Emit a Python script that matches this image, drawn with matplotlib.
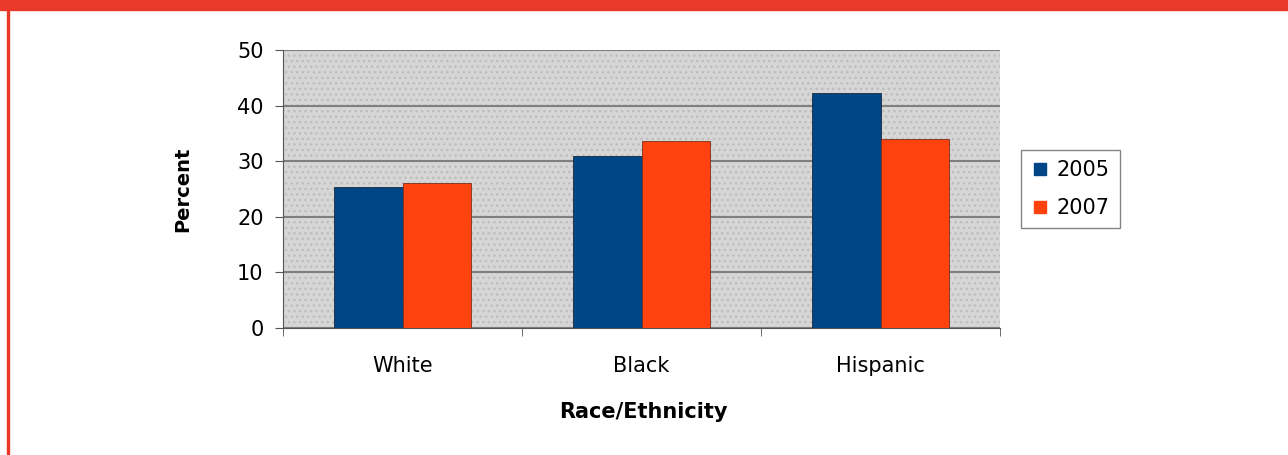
import numpy as np
import matplotlib.pyplot as plt
from matplotlib.patches import Rectangle
from matplotlib.lines import Line2D

categories = ["White", "Black", "Hispanic"]
years = ["2005", "2007"]
pct_2005 = [25.3, 31.0, 42.2]
pct_2007 = [26.0, 33.6, 34.0]
colors = ["#004586", "#ff420e"]

plt.rcParams['font.family'] = ['DejaVu Sans']

fig = plt.figure(figsize=(12.88, 4.55), dpi=100)

# red frame of the page (top bar + left line)
fig.patches.append(Rectangle((0, 455 - 10), 1288, 10, transform=None,
                             color="#e8392a", zorder=0))
fig.patches.append(Rectangle((7, 0), 2, 445, transform=None,
                             color="#e8392a", zorder=0))

ax = fig.add_axes([283 / 1288, 127 / 455, 717 / 1288, 278 / 455])
ax.set_facecolor("#d6d6d6")
ax.add_patch(Rectangle((0, 0), 1, 1, transform=ax.transAxes, facecolor="none",
                       hatch="...", edgecolor="#bdbdbd", linewidth=0, zorder=0))

x = np.arange(len(categories))
w = 0.285
ax.bar(x - w / 2, pct_2005, w, color=colors[0], edgecolor="#1a2a3a",
       linewidth=0.6, zorder=3, label=years[0])
ax.bar(x + w / 2, pct_2007, w, color=colors[1], edgecolor="#7a3020",
       linewidth=0.6, zorder=3, label=years[1])

ax.set_xlim(-0.5, len(categories) - 0.5)
ax.set_ylim(0, 50)
ax.set_yticks(range(0, 51, 10))
ax.yaxis.grid(True, color="#7f7f7f", linewidth=1.5, zorder=1)
ax.set_axisbelow(True)

ax.set_xticks(x)
ax.set_xticklabels(categories, fontsize=15)
ax.tick_params(axis="x", which="major", length=0, pad=20)
ax.set_xticks(np.arange(-0.5, len(categories)), minor=True)
ax.tick_params(axis="x", which="minor", length=6, color="#555555", direction="out")
ax.tick_params(axis="y", length=6, color="#555555", labelsize=15, pad=8)

for s in ["top", "right"]:
    ax.spines[s].set_visible(False)
ax.spines["left"].set_color("#555555")
ax.spines["bottom"].set_color("#555555")
ax.spines["left"].set_linewidth(0.8)
ax.spines["bottom"].set_linewidth(0.8)

ax.set_xlabel("Race/Ethnicity", fontsize=15, fontweight="bold")
ax.xaxis.set_label_coords(0.503, -0.266)
ax.set_ylabel("Percent", fontsize=14, fontweight="bold")
ax.yaxis.set_label_coords(-0.127, 0.5)

handles = [Line2D([], [], marker="s", linestyle="none", markersize=8.6,
                  markerfacecolor=c, markeredgecolor=c) for c in colors]
leg = fig.legend(handles, years, loc="center left", bbox_to_anchor=(1021 / 1288, 1 - 189 / 455),
                 fontsize=15, frameon=True, handlelength=0.8, handletextpad=0.4,
                 labelspacing=0.85, borderpad=0.5, borderaxespad=0, fancybox=False)
leg.get_frame().set_edgecolor("#666666")
leg.get_frame().set_linewidth(1.0)

fig.savefig("out.png", dpi=100)
